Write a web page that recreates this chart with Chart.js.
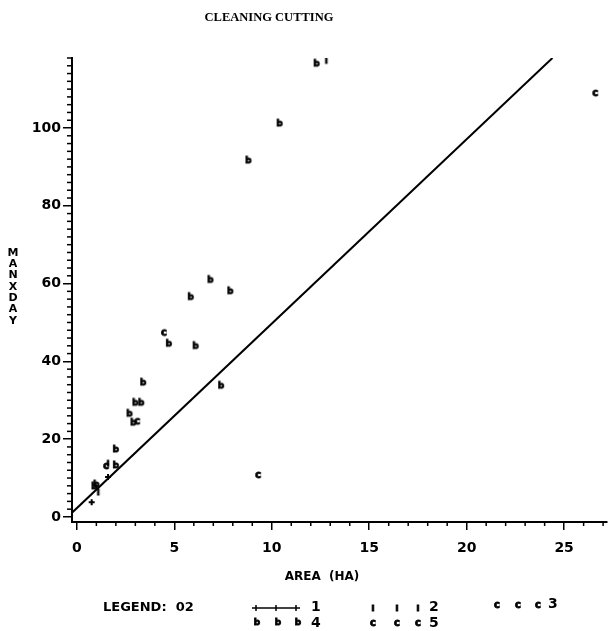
<!DOCTYPE html>
<html>
<head>
<meta charset="utf-8">
<script src="https://cdn.jsdelivr.net/npm/chart.js@4.4.1/dist/chart.umd.min.js"></script>
<style>
html, body { margin: 0; padding: 0; background: #fff; }
#wrap { width: 613px; height: 631px; }
</style>
</head>
<body>
<div id="wrap"><canvas id="cutChart" width="613" height="631"></canvas></div>
<script>
// labels
var titleText = "CLEANING CUTTING";
var xTitle = "AREA  (HA)";
var yTitle = "MANXDAY";
var legendTitle = "LEGEND:  02";
var xTicks = [0, 5, 10, 15, 20, 25];
var yTicks = [0, 20, 40, 60, 80, 100];

// series 1 : fitted line and its markers
var lineX = [-0.25, 24.4];
var lineY = [1.1, 118];
var s1X = [0.76, 1.6];
var s1Y = [3.8, 10.3];

// series 2
var s2X = [12.8, 1.1, 1.6];
var s2Y = [117.4, 6.4, 13.8];

// series 3
var s3X = [4.47, 26.6, 9.3, 1.5];
var s3Y = [47.4, 109, 10.8, 13.1];

// series 4
var s4X = [12.3, 10.4, 8.8, 6.85, 7.87, 5.84, 4.72, 6.09, 3.4, 7.4, 3.3, 3.0, 2.7, 2.9, 2.0, 2.0, 1.0, 0.9];
var s4Y = [116.4, 101, 91.5, 60.8, 57.9, 56.4, 44.4, 43.8, 34.4, 33.6, 29.2, 29.2, 26.4, 24.1, 17.2, 13.1, 8.2, 7.7];

// series 5
var s5X = [3.1];
var s5Y = [24.6];

/**
 * Zip two arrays into chart.js points
 */
function toPoints(xs, ys) {
    var pts = [];
    for (var i = 0; i < xs.length; i++) {
        pts.push({x: xs[i], y: ys[i]});
    }
    return pts;
}

/**
 * Small canvas with a character, used as point style
 */
function makeGlyph(ch, px) {
    var c = document.createElement('canvas');
    c.width = 12;
    c.height = 14;
    var g = c.getContext('2d');
    g.fillStyle = '#000';
    g.strokeStyle = '#000';
    g.lineWidth = 0.8;
    g.font = 'bold ' + px + 'px "DejaVu Sans"';
    g.textAlign = 'center';
    g.textBaseline = 'middle';
    g.fillText(ch, 6, 7);
    g.strokeText(ch, 6, 7);
    return c;
}

var glyph2 = makeGlyph('ı', 10);
var glyph3 = makeGlyph('c', 10);
var glyph4 = makeGlyph('b', 9);
var glyph5 = makeGlyph('c', 10);

var axisFont = {family: '"DejaVu Sans"', size: 14, weight: 'bold'};

/**
 * Minor ticks, titles and legend
 */
var decorPlugin = {
    id: 'decor',
    afterDraw: function (chart) {
        var ctx = chart.ctx;
        var xs = chart.scales.x;
        var ys = chart.scales.y;
        var area = chart.chartArea;
        ctx.save();
        ctx.strokeStyle = '#000';
        ctx.fillStyle = '#000';
        ctx.lineWidth = 1.5;

        // minor ticks
        for (var v = 1; v <= 27; v++) {
            if (v % 5 == 0) continue;
            var px = xs.getPixelForValue(v);
            ctx.beginPath();
            ctx.moveTo(px, area.bottom);
            ctx.lineTo(px, area.bottom + 4);
            ctx.stroke();
        }
        for (var w = 2; w <= 118; w += 2) {
            if (w % 20 == 0) continue;
            var py = ys.getPixelForValue(w);
            ctx.beginPath();
            ctx.moveTo(area.left - 5, py);
            ctx.lineTo(area.left + 1, py);
            ctx.stroke();
        }

        // title
        ctx.font = 'bold 12.5px "Liberation Serif"';
        ctx.textAlign = 'center';
        ctx.textBaseline = 'middle';
        ctx.fillText(titleText, 269, 18);

        // y title, one letter under the other
        ctx.font = 'bold 11px "DejaVu Sans"';
        for (var k = 0; k < yTitle.length; k++) {
            ctx.fillText(yTitle.charAt(k), 13, 253 + k * 11.3);
        }

        // x title
        ctx.font = 'bold 12px "DejaVu Sans"';
        ctx.fillText(xTitle, 322, 577);

        // legend
        ctx.font = 'bold 13px "DejaVu Sans"';
        ctx.textAlign = 'left';
        ctx.fillText(legendTitle, 103, 608);

        ctx.beginPath();
        ctx.moveTo(252, 608);
        ctx.lineTo(300, 608);
        ctx.stroke();
        [256, 276, 296].forEach(function (tx) {
            ctx.beginPath();
            ctx.moveTo(tx, 605);
            ctx.lineTo(tx, 611);
            ctx.stroke();
        });

        ctx.font = 'bold 14px "DejaVu Sans"';
        ctx.fillText('1', 311, 607);
        ctx.fillText('2', 429, 607);
        ctx.fillText('3', 548, 604);
        ctx.fillText('4', 311, 623);
        ctx.fillText('5', 429, 623);

        var rows = [
            [glyph2, [373, 397, 418], 608],
            [glyph3, [497, 518, 538], 605],
            [glyph4, [257, 278, 298], 623],
            [glyph5, [373, 397, 418], 623]
        ];
        rows.forEach(function (r) {
            r[1].forEach(function (gx) {
                ctx.drawImage(r[0], gx - 6, r[2] - 7);
            });
        });
        ctx.restore();
    }
};

function makeChart() {
    var ctx = document.getElementById('cutChart').getContext('2d');
    var scatterBase = {type: 'scatter', showLine: false, pointRadius: 4, pointHoverRadius: 4};

    new Chart(ctx, {
        type: 'scatter',
        data: {
            datasets: [
                {
                    label: '1',
                    type: 'line',
                    data: toPoints(lineX, lineY),
                    borderColor: '#000',
                    borderWidth: 2,
                    pointRadius: 0,
                    fill: false,
                    tension: 0
                },
                Object.assign({}, scatterBase, {label: '1m', data: toPoints(s1X, s1Y), pointStyle: 'cross', borderColor: '#000', borderWidth: 2, pointRadius: 3}),
                Object.assign({}, scatterBase, {label: '2', data: toPoints(s2X, s2Y), pointStyle: glyph2}),
                Object.assign({}, scatterBase, {label: '3', data: toPoints(s3X, s3Y), pointStyle: glyph3}),
                Object.assign({}, scatterBase, {label: '4', data: toPoints(s4X, s4Y), pointStyle: glyph4}),
                Object.assign({}, scatterBase, {label: '5', data: toPoints(s5X, s5Y), pointStyle: glyph5})
            ]
        },
        options: {
            responsive: false,
            animation: false,
            devicePixelRatio: 1,
            layout: {padding: {top: 58, right: 0, left: 0, bottom: 0}},
            plugins: {
                legend: {display: false},
                title: {display: false},
                tooltip: {enabled: false}
            },
            scales: {
                x: {
                    type: 'linear',
                    min: -0.25,
                    max: 27.2,
                    afterBuildTicks: function (scale) {
                        scale.ticks = xTicks.map(function (v) { return {value: v}; });
                    },
                    afterFit: function (scale) { scale.height = 109; },
                    grid: {drawOnChartArea: false, drawTicks: true, tickLength: 8, color: '#000', lineWidth: 1.5},
                    border: {display: true, color: '#000', width: 2},
                    ticks: {color: '#000', font: axisFont, padding: 10, maxRotation: 0, autoSkip: false}
                },
                y: {
                    type: 'linear',
                    min: -1.3,
                    max: 118,
                    afterBuildTicks: function (scale) {
                        scale.ticks = yTicks.map(function (v) { return {value: v}; });
                    },
                    afterFit: function (scale) { scale.width = 72; },
                    grid: {drawOnChartArea: false, drawTicks: true, tickLength: 9, color: '#000', lineWidth: 1.5},
                    border: {display: true, color: '#000', width: 2},
                    ticks: {color: '#000', font: axisFont, padding: 2, autoSkip: false}
                }
            }
        },
        plugins: [decorPlugin]
    });
}

makeChart();
</script>
</body>
</html>
